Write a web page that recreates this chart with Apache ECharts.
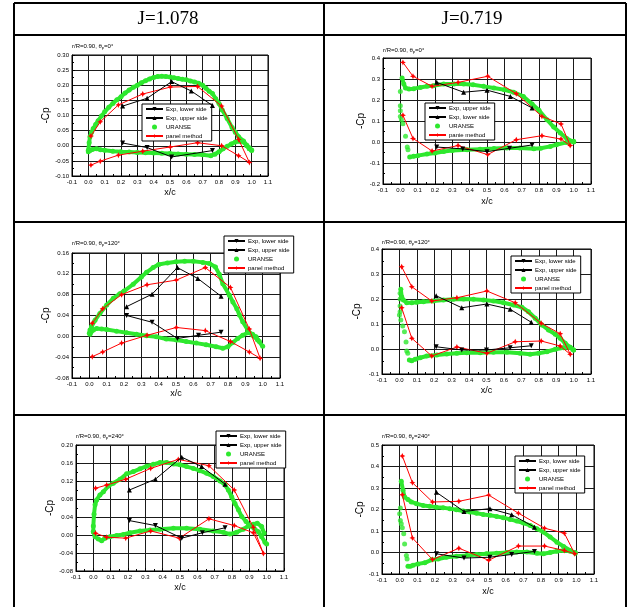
<!DOCTYPE html>
<html>
<head>
<meta charset="utf-8">
<script src="https://cdn.jsdelivr.net/npm/echarts@6/dist/echarts.min.js"></script>
<style>
  html, body { margin: 0; padding: 0; background: #fff; }
  #main { width: 627px; height: 607px; }
</style>
</head>
<body>
<div id="main"></div>
<script>
// column headers and blade angles
const headers = ['J=1.078', 'J=0.719'];
const angles = ['0', '0', '120', '120', '240', '240'];

// ---- J=1.078, theta=0
const c1ExpDown = [[0.21, 0.009], [0.36, -0.006], [0.51, -0.037], [0.76, -0.016]];
const c1ExpUp = [[0.21, 0.131], [0.36, 0.157], [0.51, 0.212], [0.63, 0.181], [0.76, 0.133]];
const c1PanelUp = [[0.016, 0.032], [0.073, 0.079], [0.184, 0.135], [0.333, 0.171], [0.502, 0.194], [0.669, 0.196], [0.816, 0.131], [0.92, 0.021], [0.986, -0.055]];
const c1PanelLow = [[0.016, -0.064], [0.073, -0.051], [0.184, -0.031], [0.333, -0.018], [0.502, -0.004], [0.669, 0.01], [0.816, 0.0], [0.92, -0.033], [0.986, -0.055]];
const c1UrUp = [[0.0, -0.015], [0.005, 0.01], [0.01, 0.03], [0.02, 0.045], [0.03, 0.057], [0.045, 0.07], [0.06, 0.083], [0.08, 0.098], [0.1, 0.112], [0.125, 0.127], [0.15, 0.14], [0.175, 0.152], [0.2, 0.162], [0.225, 0.174], [0.25, 0.184], [0.275, 0.193], [0.3, 0.2], [0.325, 0.208], [0.35, 0.215], [0.375, 0.221], [0.4, 0.226], [0.425, 0.229], [0.45, 0.23], [0.475, 0.229], [0.5, 0.227], [0.525, 0.225], [0.55, 0.222], [0.575, 0.22], [0.6, 0.218], [0.625, 0.214], [0.65, 0.211], [0.675, 0.207], [0.7, 0.2], [0.72, 0.19], [0.74, 0.18], [0.76, 0.173], [0.78, 0.155], [0.8, 0.14], [0.82, 0.118], [0.85, 0.09], [0.88, 0.06], [0.9, 0.045], [0.92, 0.03], [0.95, 0.016], [0.97, 0.002], [0.985, -0.007], [1.0, -0.014]];
const c1UrLow = [[0.0, -0.02], [0.01, -0.016], [0.025, -0.012], [0.05, -0.01], [0.075, -0.013], [0.1, -0.015], [0.15, -0.018], [0.2, -0.02], [0.25, -0.021], [0.3, -0.022], [0.35, -0.023], [0.4, -0.024], [0.45, -0.025], [0.5, -0.026], [0.55, -0.027], [0.6, -0.028], [0.65, -0.029], [0.7, -0.03], [0.75, -0.033], [0.775, -0.028], [0.8, -0.02], [0.825, -0.01], [0.85, -0.002], [0.875, 0.006], [0.9, 0.012], [0.925, 0.015], [0.95, 0.012], [0.97, 0.0], [0.985, -0.01], [1.0, -0.016]];
const c1UrDots = [];

// ---- J=0.719, theta=0
const c2ExpDown = [[0.21, -0.024], [0.36, -0.033], [0.5, -0.046], [0.63, -0.03], [0.76, -0.014]];
const c2ExpUp = [[0.21, 0.284], [0.365, 0.237], [0.5, 0.247], [0.635, 0.217], [0.76, 0.162]];
const c2PanelUp = [[0.015, 0.379], [0.073, 0.313], [0.183, 0.265], [0.333, 0.284], [0.504, 0.313], [0.669, 0.23], [0.817, 0.122], [0.927, 0.086], [0.98, -0.017]];
const c2PanelLow = [[0.015, 0.127], [0.073, 0.017], [0.183, -0.043], [0.333, -0.017], [0.504, -0.06], [0.669, 0.011], [0.817, 0.03], [0.927, 0.014], [0.98, -0.017]];
const c2UrUp = [[0.01, 0.305], [0.02, 0.276], [0.03, 0.257], [0.05, 0.252], [0.077, 0.254], [0.115, 0.26], [0.154, 0.265], [0.19, 0.268], [0.25, 0.276], [0.31, 0.276], [0.365, 0.276], [0.42, 0.273], [0.48, 0.265], [0.54, 0.257], [0.6, 0.249], [0.654, 0.237], [0.71, 0.217], [0.76, 0.181], [0.8, 0.151], [0.846, 0.106], [0.885, 0.071], [0.923, 0.043], [0.96, 0.017], [1.0, 0.0]];
const c2UrLow = [[0.054, -0.071], [0.077, -0.068], [0.1, -0.065], [0.154, -0.057], [0.2, -0.052], [0.25, -0.045], [0.3, -0.041], [0.385, -0.037], [0.46, -0.034], [0.54, -0.031], [0.615, -0.028], [0.69, -0.029], [0.77, -0.032], [0.81, -0.03], [0.865, -0.021], [0.9, -0.013], [0.96, -0.002], [1.0, 0.003]];
const c2UrDots = [[0.0, 0.24], [0.0, 0.173], [0.0, 0.149], [0.0, 0.122], [0.006, 0.106], [0.015, 0.087], [0.03, 0.027], [0.04, -0.024], [0.044, -0.037]];

// ---- J=1.078, theta=120
const c3ExpDown = [[0.215, 0.04], [0.362, 0.027], [0.508, -0.004], [0.63, 0.002], [0.76, 0.008]];
const c3ExpUp = [[0.215, 0.057], [0.362, 0.081], [0.508, 0.132], [0.626, 0.111], [0.76, 0.077]];
const c3PanelUp = [[0.017, 0.025], [0.077, 0.053], [0.186, 0.08], [0.333, 0.099], [0.502, 0.108], [0.669, 0.132], [0.814, 0.094], [0.923, 0.014], [0.985, -0.042]];
const c3PanelLow = [[0.017, -0.039], [0.077, -0.03], [0.186, -0.013], [0.333, 0.002], [0.502, 0.017], [0.669, 0.011], [0.814, -0.01], [0.923, -0.03], [0.985, -0.042]];
const c3UrUp = [[0.0, 0.006], [0.004, 0.012], [0.013, 0.019], [0.033, 0.031], [0.061, 0.044], [0.1, 0.06], [0.138, 0.073], [0.176, 0.082], [0.2, 0.087], [0.253, 0.1], [0.3, 0.114], [0.33, 0.123], [0.368, 0.132], [0.4, 0.138], [0.45, 0.141], [0.5, 0.143], [0.55, 0.144], [0.6, 0.144], [0.655, 0.142], [0.693, 0.14], [0.728, 0.133], [0.75, 0.119], [0.77, 0.101], [0.808, 0.079], [0.828, 0.066], [0.851, 0.053], [0.866, 0.041], [0.885, 0.028], [0.914, 0.012], [0.942, 0.002], [0.971, -0.007], [1.0, -0.019]];
const c3UrLow = [[0.004, 0.004], [0.023, 0.012], [0.042, 0.015], [0.071, 0.014], [0.1, 0.013], [0.157, 0.01], [0.215, 0.007], [0.272, 0.004], [0.33, 0.001], [0.387, -0.001], [0.444, -0.005], [0.502, -0.007], [0.559, -0.01], [0.617, -0.013], [0.674, -0.016], [0.732, -0.02], [0.77, -0.023], [0.799, -0.02], [0.828, -0.012], [0.856, -0.004], [0.885, 0.002], [0.914, 0.007], [0.942, 0.004], [0.962, -0.001], [0.981, -0.01]];
const c3UrDots = [];

// ---- J=0.719, theta=120
const c4ExpDown = [[0.211, 0.009], [0.358, -0.004], [0.5, -0.004], [0.636, 0.005], [0.757, 0.013]];
const c4ExpUp = [[0.211, 0.213], [0.358, 0.165], [0.502, 0.18], [0.636, 0.159], [0.757, 0.107]];
const c4PanelUp = [[0.013, 0.329], [0.071, 0.249], [0.186, 0.192], [0.33, 0.205], [0.502, 0.232], [0.665, 0.185], [0.814, 0.103], [0.923, 0.061], [0.981, -0.021]];
const c4PanelLow = [[0.013, 0.165], [0.071, 0.043], [0.186, -0.028], [0.33, 0.008], [0.502, -0.017], [0.665, 0.029], [0.814, 0.032], [0.923, 0.012], [0.981, -0.021]];
const c4UrUp = [[0.008, 0.239], [0.013, 0.209], [0.023, 0.196], [0.042, 0.185], [0.071, 0.185], [0.1, 0.187], [0.138, 0.189], [0.195, 0.192], [0.253, 0.196], [0.31, 0.199], [0.368, 0.2], [0.425, 0.199], [0.483, 0.196], [0.54, 0.192], [0.598, 0.185], [0.655, 0.176], [0.703, 0.167], [0.741, 0.149], [0.78, 0.123], [0.818, 0.096], [0.856, 0.076], [0.895, 0.059], [0.923, 0.043], [0.952, 0.023], [0.981, 0.007], [1.0, -0.004]];
const c4UrLow = [[0.057, -0.044], [0.071, -0.047], [0.09, -0.041], [0.119, -0.035], [0.157, -0.028], [0.215, -0.024], [0.272, -0.02], [0.33, -0.017], [0.387, -0.015], [0.464, -0.015], [0.54, -0.013], [0.617, -0.013], [0.693, -0.017], [0.751, -0.021], [0.799, -0.017], [0.847, -0.011], [0.895, -0.001], [0.943, 0.005], [0.981, 0.005], [1.0, -0.004]];
const c4UrDots = [[0.004, 0.223], [0.004, 0.2], [0.004, 0.172], [0.004, 0.149], [0.0, 0.136], [0.008, 0.116], [0.019, 0.092], [0.029, 0.069], [0.038, 0.028], [0.042, -0.008], [0.048, -0.017]];

// ---- J=1.078, theta=240
const c5ExpDown = [[0.208, 0.032], [0.358, 0.021], [0.51, -0.007], [0.629, 0.005], [0.76, 0.016]];
const c5ExpUp = [[0.208, 0.1], [0.358, 0.124], [0.51, 0.173], [0.625, 0.152], [0.76, 0.113]];
const c5PanelUp = [[0.013, 0.104], [0.077, 0.111], [0.187, 0.124], [0.331, 0.148], [0.49, 0.168], [0.667, 0.154], [0.813, 0.1], [0.923, 0.017], [0.981, -0.041]];
const c5PanelLow = [[0.013, 0.004], [0.077, -0.005], [0.187, -0.007], [0.331, 0.009], [0.496, -0.007], [0.667, 0.036], [0.813, 0.021], [0.923, 0.005], [0.981, -0.041]];
const c5UrUp = [[0.0, 0.007], [0.0, 0.02], [0.004, 0.046], [0.01, 0.067], [0.019, 0.078], [0.038, 0.089], [0.058, 0.096], [0.087, 0.109], [0.115, 0.115], [0.154, 0.124], [0.192, 0.136], [0.231, 0.141], [0.269, 0.147], [0.308, 0.153], [0.346, 0.157], [0.385, 0.161], [0.423, 0.161], [0.462, 0.158], [0.5, 0.156], [0.538, 0.152], [0.577, 0.148], [0.615, 0.143], [0.654, 0.137], [0.692, 0.13], [0.731, 0.12], [0.76, 0.111], [0.779, 0.1], [0.798, 0.085], [0.817, 0.07], [0.837, 0.056], [0.856, 0.041], [0.881, 0.03], [0.904, 0.02], [0.927, 0.015], [0.952, 0.007], [0.971, -0.004], [0.99, -0.016], [1.0, -0.02]];
const c5UrLow = [[0.0, 0.007], [0.01, -0.004], [0.029, -0.009], [0.048, -0.013], [0.067, -0.007], [0.096, -0.004], [0.135, -0.001], [0.173, 0.001], [0.212, 0.005], [0.269, 0.009], [0.327, 0.011], [0.385, 0.013], [0.462, 0.015], [0.538, 0.015], [0.615, 0.013], [0.692, 0.009], [0.75, 0.006], [0.788, 0.002], [0.827, 0.006], [0.865, 0.013], [0.894, 0.02], [0.923, 0.024], [0.946, 0.026], [0.971, 0.019], [0.985, 0.004]];
const c5UrDots = [];

// ---- J=0.719, theta=240
const c6ExpDown = [[0.208, -0.006], [0.364, -0.026], [0.511, -0.022], [0.634, -0.009], [0.763, 0.005]];
const c6ExpUp = [[0.208, 0.28], [0.364, 0.191], [0.511, 0.204], [0.634, 0.176], [0.763, 0.118]];
const c6PanelUp = [[0.015, 0.449], [0.072, 0.325], [0.186, 0.235], [0.335, 0.238], [0.504, 0.267], [0.672, 0.183], [0.82, 0.113], [0.932, 0.09], [0.991, -0.006]];
const c6PanelLow = [[0.015, 0.269], [0.072, 0.068], [0.186, -0.033], [0.335, 0.02], [0.504, -0.036], [0.672, 0.03], [0.82, 0.03], [0.932, 0.009], [0.991, -0.006]];
const c6UrUp = [[0.009, 0.331], [0.019, 0.289], [0.028, 0.258], [0.047, 0.246], [0.066, 0.235], [0.095, 0.227], [0.133, 0.219], [0.17, 0.215], [0.208, 0.211], [0.246, 0.208], [0.284, 0.204], [0.322, 0.199], [0.36, 0.193], [0.398, 0.188], [0.436, 0.183], [0.473, 0.177], [0.511, 0.173], [0.549, 0.168], [0.587, 0.162], [0.625, 0.154], [0.663, 0.146], [0.701, 0.137], [0.739, 0.126], [0.777, 0.11], [0.814, 0.095], [0.852, 0.072], [0.89, 0.048], [0.928, 0.028], [0.966, 0.009], [0.994, -0.003]];
const c6UrLow = [[0.047, -0.064], [0.061, -0.064], [0.076, -0.059], [0.104, -0.053], [0.142, -0.048], [0.18, -0.034], [0.218, -0.03], [0.265, -0.022], [0.322, -0.017], [0.379, -0.014], [0.436, -0.009], [0.492, -0.006], [0.549, -0.003], [0.606, 0.0], [0.663, 0.002], [0.72, 0.002], [0.777, -0.003], [0.814, -0.006], [0.852, 0.0], [0.89, 0.006], [0.928, 0.009], [0.966, 0.006], [0.994, 0.0]];
const c6UrDots = [[0.004, 0.207], [0.0, 0.18], [0.004, 0.149], [0.009, 0.134], [0.015, 0.115], [0.023, 0.087], [0.028, 0.04], [0.038, -0.014], [0.042, -0.03]];

const FONT = '"Liberation Sans", Arial, sans-serif';
const GREEN = '#2ee82e';
const DOWN = 'path://M0,0L10,0L5,9Z';
const STAR = 'path://M5,0L6.6,3.4L10,5L6.6,6.6L5,10L3.4,6.6L0,5L3.4,3.4Z';

const stdNames = ['Exp, lower side', 'Exp, upper side', 'URANSE', 'panel method'];

// layout of each small plot (pixels)
const panels = [
  { grid: [72, 55, 196, 121], y: [-0.1, 0.3, 0.05], dec: 2, title: [72, 43], leg: [142, 104], xGap: 12, yGap: 17,
    names: stdNames, d: [c1ExpDown, c1ExpUp, c1UrUp, c1UrLow, c1UrDots, c1PanelUp, c1PanelLow] },
  { grid: [383, 58, 208, 126], y: [-0.2, 0.4, 0.1], dec: 1, title: [383, 47], leg: [425, 103], xGap: 13, yGap: 13,
    names: ['Exp, upper side', 'Exp, lower side', 'URANSE', 'panie method'], d: [c2ExpDown, c2ExpUp, c2UrUp, c2UrLow, c2UrDots, c2PanelUp, c2PanelLow] },
  { grid: [72, 253, 208, 125], y: [-0.08, 0.16, 0.04], dec: 2, title: [72, 240], leg: [224, 236], xGap: 11, yGap: 14,
    names: stdNames, d: [c3ExpDown, c3ExpUp, c3UrUp, c3UrLow, c3UrDots, c3PanelUp, c3PanelLow] },
  { grid: [382, 249, 209, 125], y: [-0.1, 0.4, 0.1], dec: 1, title: [382, 239], leg: [511, 256], xGap: 12, yGap: 20,
    names: stdNames, d: [c4ExpDown, c4ExpUp, c4UrUp, c4UrLow, c4UrDots, c4PanelUp, c4PanelLow] },
  { grid: [76, 445, 208, 126], y: [-0.08, 0.2, 0.04], dec: 2, title: [76, 433], leg: [216, 431], xGap: 12, yGap: 19,
    names: stdNames, d: [c5ExpDown, c5ExpUp, c5UrUp, c5UrLow, c5UrDots, c5PanelUp, c5PanelLow] },
  { grid: [382, 445, 212, 129], y: [-0.1, 0.5, 0.1], dec: 1, title: [382, 433], leg: [515, 456], xGap: 13, yGap: 17,
    names: stdNames, d: [c6ExpDown, c6ExpUp, c6UrUp, c6UrLow, c6UrDots, c6PanelUp, c6PanelLow] }
];

const grids = [], xAxes = [], yAxes = [], legends = [], titles = [], series = [];
const tickLabel = { fontSize: 6, color: '#000', fontFamily: FONT, margin: 3 };

panels.forEach((p, i) => {
  const sfx = ' '.repeat(i);
  const [expDown, expUp, urUp, urLow, urDots, panUp, panLow] = p.d;
  const nm = p.names.map(n => n + sfx);
  grids.push({ left: p.grid[0], top: p.grid[1], width: p.grid[2], height: p.grid[3],
    show: true, borderColor: '#000', borderWidth: 1, backgroundColor: 'transparent' });
  xAxes.push({
    gridIndex: i, type: 'value', min: -0.1, max: 1.1, interval: 0.1,
    axisLine: { show: true, onZero: false, lineStyle: { color: '#000', width: 1 } },
    axisTick: { show: true, inside: true, length: 3, lineStyle: { color: '#000' } },
    minorTick: { show: true, splitNumber: 2, length: 2, lineStyle: { color: '#000' } },
    axisLabel: Object.assign({ formatter: v => v.toFixed(1) }, tickLabel),
    splitLine: { show: true, lineStyle: { color: '#1a1a1a', width: 1 } },
    name: 'x/c', nameLocation: 'middle', nameGap: p.xGap,
    nameTextStyle: { fontSize: 9, color: '#000', fontFamily: FONT }
  });
  yAxes.push({
    gridIndex: i, type: 'value', min: p.y[0], max: p.y[1], interval: p.y[2],
    axisLine: { show: true, onZero: false, lineStyle: { color: '#000', width: 1 } },
    axisTick: { show: true, inside: true, length: 3, lineStyle: { color: '#000' } },
    minorTick: { show: true, splitNumber: 2, length: 2, lineStyle: { color: '#000' } },
    axisLabel: Object.assign({ formatter: v => v.toFixed(p.dec) }, tickLabel),
    splitLine: { show: true, lineStyle: { color: '#1a1a1a', width: 1 } },
    name: '-Cp', nameLocation: 'middle', nameGap: p.yGap,
    nameTextStyle: { fontSize: 10, color: '#000', fontFamily: FONT }
  });
  titles.push({
    text: 'r/R=0.90, θ{s|p}=' + angles[i] + '°', left: p.title[0], top: p.title[1], padding: 0,
    textStyle: { fontSize: 6, fontWeight: 'normal', color: '#000', fontFamily: FONT,
      rich: { s: { fontSize: 4, color: '#000', fontFamily: FONT, verticalAlign: 'bottom', padding: [3, 0, 0, 0] } } }
  });
  legends.push({
    left: p.leg[0], top: p.leg[1], orient: 'vertical', selectedMode: false,
    backgroundColor: '#fff', borderColor: '#000', borderWidth: 1, borderRadius: 0,
    padding: [2, 4, 2, 3], itemGap: 3, itemWidth: 17, itemHeight: 5,
    textStyle: { fontSize: 6, color: '#000', fontFamily: FONT, padding: [0, 0, 0, -2] },
    formatter: n => n.trim(),
    data: [{ name: nm[0] }, { name: nm[1] }, { name: nm[2], icon: 'circle' }, { name: nm[3] }]
  });
  const ax = { xAxisIndex: i, yAxisIndex: i };
  const green = { type: 'line', name: nm[2], symbol: 'circle', symbolSize: 5, showSymbol: true,
    lineStyle: { color: GREEN, width: 4 }, itemStyle: { color: GREEN }, z: 2 };
  series.push(Object.assign({}, ax, green, { data: urUp }));
  series.push(Object.assign({}, ax, green, { data: urLow }));
  series.push(Object.assign({}, ax, { type: 'scatter', name: nm[2], symbolSize: 5, itemStyle: { color: GREEN }, data: urDots, z: 2 }));
  series.push(Object.assign({}, ax, {
    type: 'line', name: nm[3], symbol: STAR, symbolSize: 6,
    lineStyle: { color: '#f00', width: 1 }, itemStyle: { color: '#f00' }, z: 3,
    data: panUp.concat(panLow.slice(0, -1).reverse())
  }));
  series.push(Object.assign({}, ax, {
    type: 'line', name: nm[0], symbol: DOWN, symbolSize: 5,
    lineStyle: { color: '#000', width: 1 }, itemStyle: { color: '#000' }, z: 4, data: expDown
  }));
  series.push(Object.assign({}, ax, {
    type: 'line', name: nm[1], symbol: 'triangle', symbolSize: 5,
    lineStyle: { color: '#000', width: 1 }, itemStyle: { color: '#000' }, z: 4, data: expUp
  }));
});

// table frame and column headers
const L = (x1, y1, x2, y2) => ({ type: 'line', shape: { x1, y1, x2, y2 }, style: { stroke: '#000', lineWidth: 2 }, z: 100 });
const graphic = [
  L(14, 3, 626, 3), L(14, 35, 626, 35), L(14, 222, 626, 222), L(14, 415, 626, 415),
  L(14, 3, 14, 607), L(324, 3, 324, 607), L(626, 3, 626, 607),
  { type: 'text', style: { text: headers[0], x: 168, y: 19, textAlign: 'center', textVerticalAlign: 'middle', font: '19px "Liberation Serif", "Times New Roman", serif', fill: '#000' } },
  { type: 'text', style: { text: headers[1], x: 472, y: 19, textAlign: 'center', textVerticalAlign: 'middle', font: '19px "Liberation Serif", "Times New Roman", serif', fill: '#000' } }
];

const chart = echarts.init(document.getElementById('main'));
chart.setOption({
  animation: false,
  backgroundColor: '#fff',
  title: titles,
  legend: legends,
  grid: grids,
  xAxis: xAxes,
  yAxis: yAxes,
  series: series,
  graphic: graphic
});
</script>
</body>
</html>
